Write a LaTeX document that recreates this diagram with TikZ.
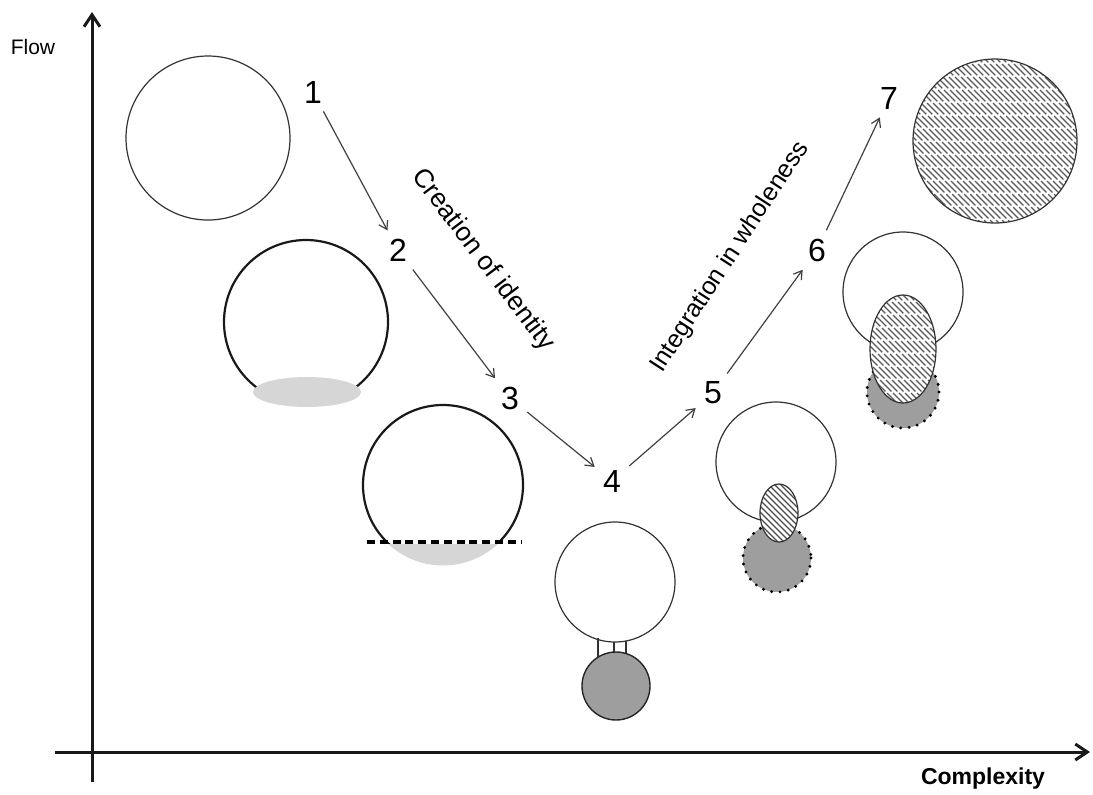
\documentclass[tikz,border=0pt]{standalone}
\usepackage{fontspec}
\setmainfont{Liberation Sans}
\usetikzlibrary{arrows.meta}
\begin{document}
\begin{tikzpicture}[x=0.5pt,y=-0.5pt,
  axis/.style={line width=1.5pt,draw=black!90,-{Straight Barb[length=6pt,width=8pt]}},
  flowarrow/.style={line width=0.6pt,draw=black!75,-{Straight Barb[length=4pt,width=5pt]}},
  num/.style={font=\fontsize{16}{16}\selectfont,inner sep=4pt},
  lab/.style={font=\fontsize{12.5}{12.5}\selectfont,inner sep=1pt},
  thinc/.style={draw=black!80,line width=0.6pt,fill=white},
  thickc/.style={draw=black!90,line width=1.1pt,fill=white},
  greyfill/.style={fill=black!38},
  lightgrey/.style={fill=black!16},
  dotc/.style={draw=black,line width=1.6pt,dash pattern=on 0pt off 4.2pt,line cap=round},
  hatchline/.style={draw=black!70,line width=0.55pt},
  hatchdash/.style={draw=black!65,line width=0.6pt,dash pattern=on 8pt off 1.2pt}
]
\useasboundingbox (0,0) rectangle (1093,794);

% axes
\coordinate (yb) at (92,782);
\coordinate (yt) at (92,12);
\coordinate (xl) at (55,752);
\coordinate (xr) at (1090,752);
\draw[axis] (yb) -- (yt);
\draw[axis] (xl) -- (xr);
\node[font=\fontsize{10.5}{10.5}\selectfont] (flow) at (33,47) {Flow};
\node[font=\bfseries\fontsize{11.5}{11.5}\selectfont] (cplx) at (983,779) {Complexity};

% circle 1
\draw[thinc] (208,138) circle (82);

% circle 2
\draw[thickc] (306,322) circle (82);
\fill[lightgrey] (307,392) ellipse (54 and 15);

% circle 3
\begin{scope}
  \clip (443,485) circle (80.5);
  \fill[lightgrey] (360,542) rectangle (530,570);
\end{scope}
\begin{scope}
  \clip (350,395) rectangle (535,543);
  \draw[thickc] (443,485) circle (80);
\end{scope}
\draw[line width=2pt,dash pattern=on 4pt off 2.4pt] (367,542) -- (521,542);

% circle 4
\draw[thinc] (615,582) circle (60);
\draw[draw=black!80,line width=0.6pt] (598,638) -- (598,657);
\draw[draw=black!80,line width=0.6pt] (614,642) -- (614,653);
\draw[draw=black!80,line width=0.6pt] (626,641) -- (626,655);
\draw[draw=black!85,line width=0.7pt,greyfill] (616,686) circle (34);

% circle 5
\draw[thinc] (776,462) circle (60);
\fill[greyfill] (777,558) circle (34);
\draw[dotc] (777,558) circle (34);
\fill[white] (779,513) ellipse (19 and 29);
\begin{scope}
  \clip (779,513) ellipse (19 and 29);
  \foreach \t in {-60,-54,...,60} \draw[hatchline,shift={(779,513)}] (\t-40,-40) -- (\t+40,40);
\end{scope}
\draw[draw=black!80,line width=0.6pt] (779,513) ellipse (19 and 29);

% circle 6
\draw[thinc] (903,292) circle (60);
\fill[greyfill] (903,392) circle (36);
\draw[dotc] (903,392) circle (36);
\fill[white] (903,349) ellipse (33 and 54);
\begin{scope}
  \clip (903,349) ellipse (33 and 54);
  \foreach \t in {-96,-90,...,96} \draw[hatchdash,shift={(903,349)}] (\t-60,-60) -- (\t+60,60);
\end{scope}
\draw[draw=black!80,line width=0.6pt] (903,349) ellipse (33 and 54);

% circle 7
\fill[white] (995,141) circle (82);
\begin{scope}
  \clip (995,141) circle (82);
  \foreach \t in {-180,-174,...,180} \draw[hatchdash,shift={(995,141)}] (\t-90,-90) -- (\t+90,90);
\end{scope}
\draw[draw=black!80,line width=0.6pt] (995,141) circle (82);

% numbers
\node[num] (n1) at (313,92) {1};
\node[num] (n2) at (398,250) {2};
\node[num] (n3) at (510,398) {3};
\node[num] (n4) at (612,481) {4};
\node[num] (n5) at (713,393) {5};
\node[num] (n6) at (817,250) {6};
\node[num] (n7) at (889,98) {7};
\draw[flowarrow] (n1) -- (n2);
\draw[flowarrow] (n2) -- (n3);
\draw[flowarrow] (n3) -- (n4);
\draw[flowarrow] (n4) -- (n5);
\draw[flowarrow] (n5) -- (n6);
\draw[flowarrow] (n6) -- (n7);

% phase labels
\node[lab,rotate=-53,font=\fontsize{13.2}{13.2}\selectfont] (phase1) at (483,260) {Creation of identity};
\node[lab,rotate=57] (phase2) at (730,257) {Integration in wholeness};
\end{tikzpicture}
\end{document}
